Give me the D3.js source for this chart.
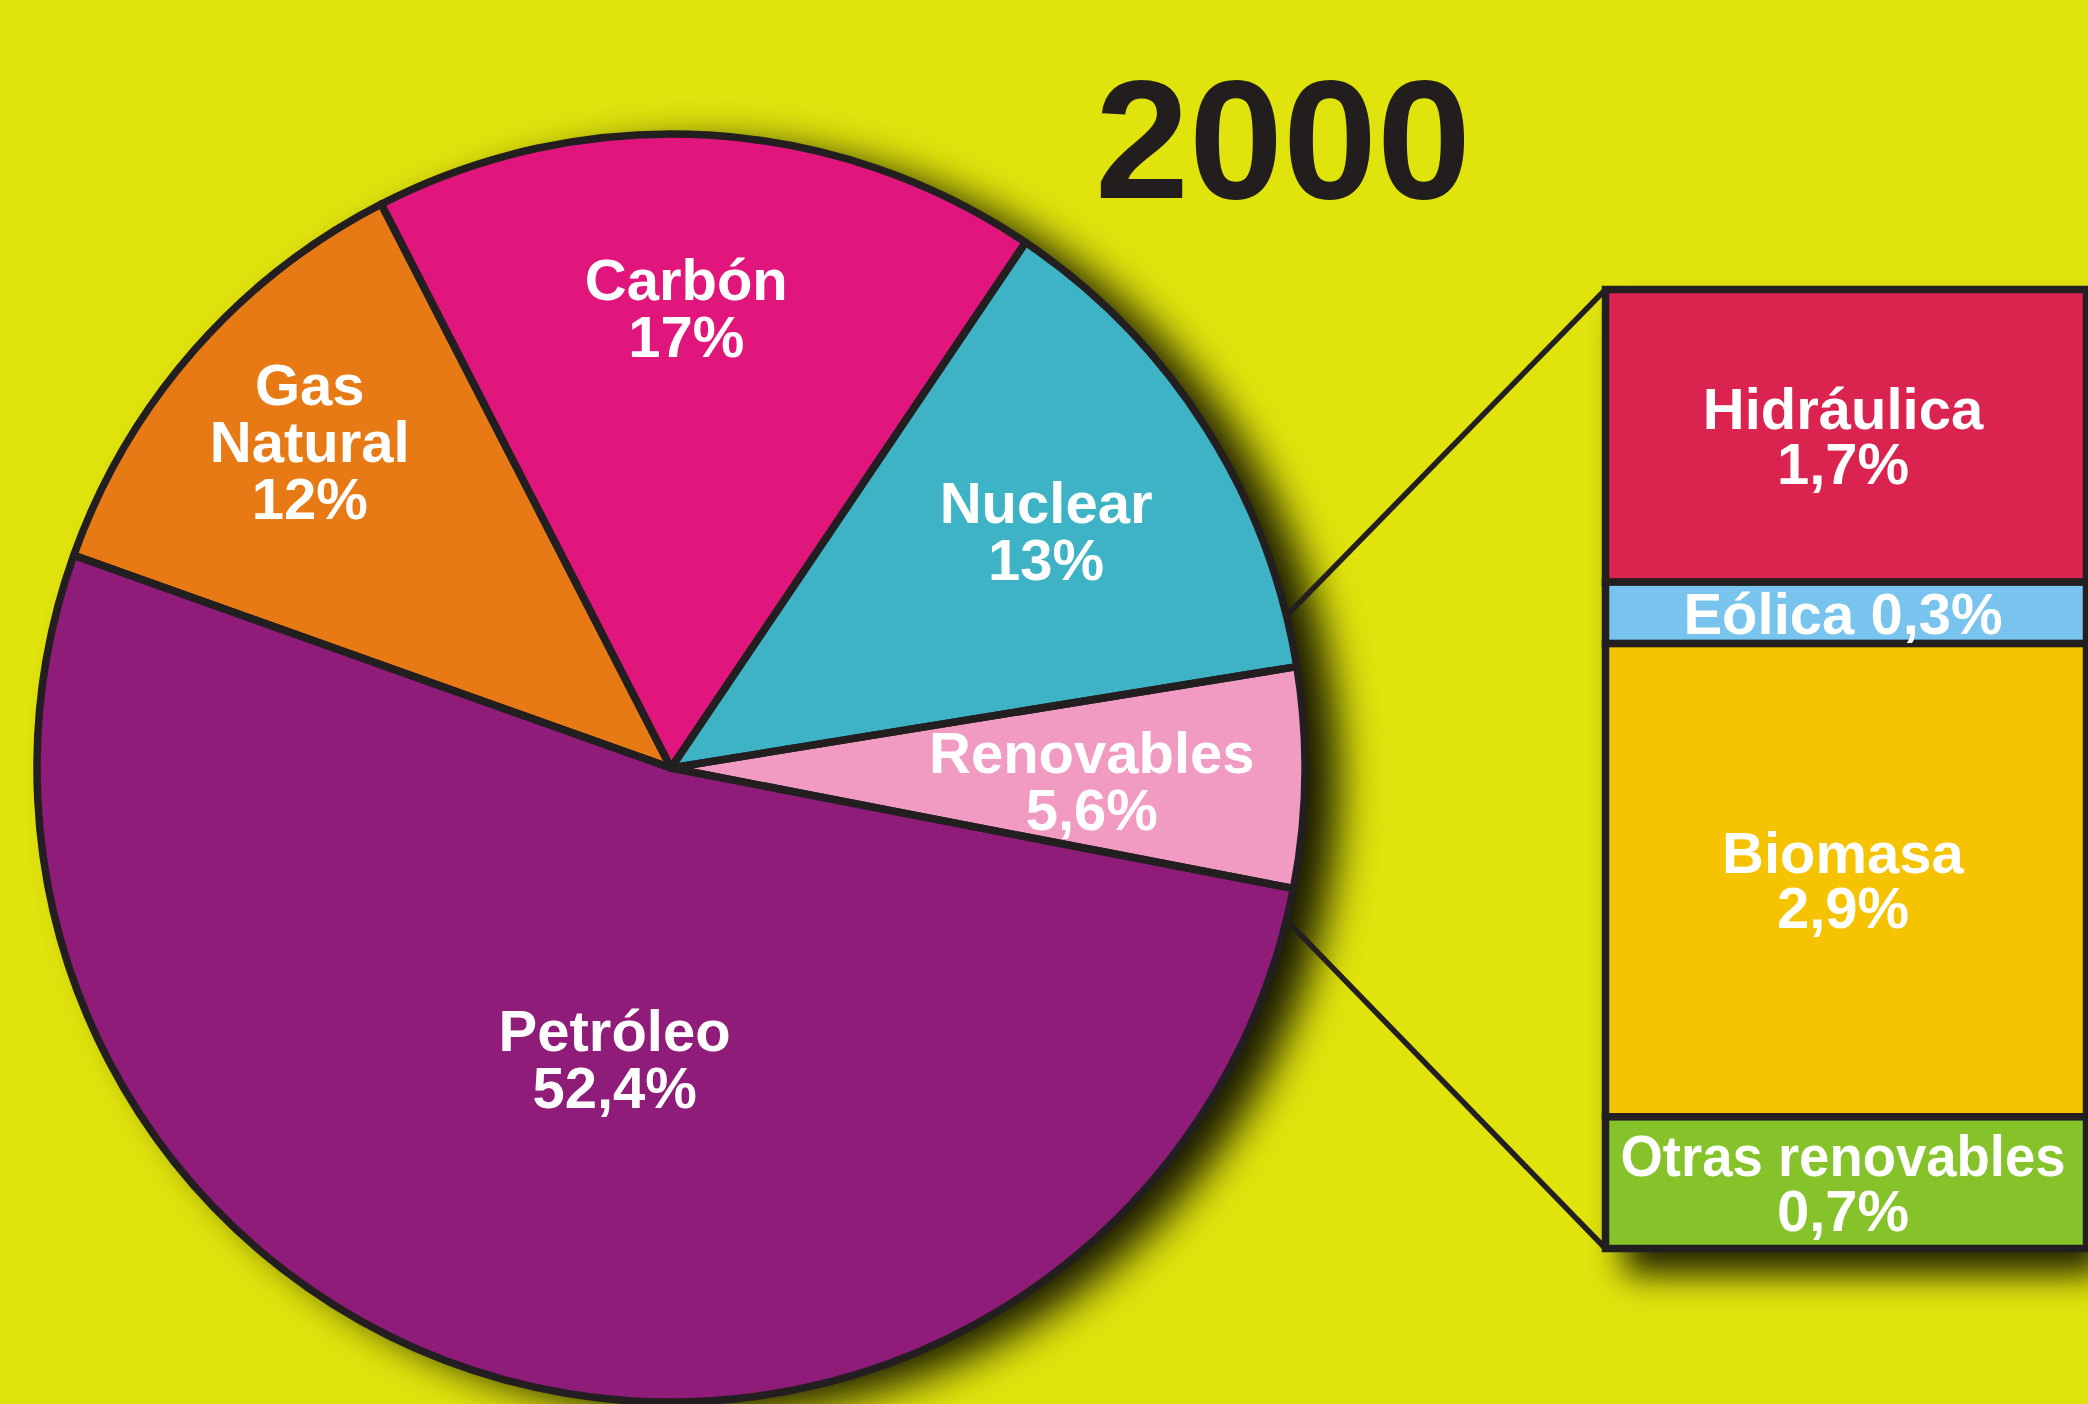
<!DOCTYPE html>
<html>
<head>
<meta charset="utf-8">
<script src="https://cdn.jsdelivr.net/npm/d3@7"></script>
<style>
  body { margin: 0; background: #e1e40c; overflow: hidden; }
  text { font-family: "Liberation Sans", Arial, Helvetica, sans-serif; font-weight: bold; }
</style>
</head>
<body>
<div class="chart"></div>
<script>
// data (year 2000 energy mix, %)
const title = "2000";
const sources = ["Renovables", "Petróleo", "Gas Natural", "Carbón", "Nuclear"];
const shares = [5.6, 52.4, 12, 17, 13];
const sourceColors = ["#f29bc2", "#8f1f78", "#e87a18", "#e0147b", "#3eb3c5"];

const renewables = ["Hidráulica", "Eólica", "Biomasa", "Otras renovables"];
const renewShares = [1.7, 0.3, 2.9, 0.7];
const renewColors = ["#db234f", "#78c4ee", "#f6c300", "#86c22a"];

const W = 2088, H = 1404;
const ink = "#231f20";
const pct = v => String(v).replace(".", ",") + "%";

const svg = d3.select(".chart")
  .append("svg")
  .attr("width", W)
  .attr("height", H)
  .attr("viewBox", `0 0 ${W} ${H}`);

const defs = svg.append("defs");
defs.append("filter")
  .attr("id", "pieShadow")
  .attr("x", "-15%").attr("y", "-15%").attr("width", "140%").attr("height", "140%")
  .append("feDropShadow")
  .attr("dx", 34).attr("dy", 12).attr("stdDeviation", 22)
  .attr("flood-color", "#000").attr("flood-opacity", 0.9);
defs.append("filter")
  .attr("id", "barShadow")
  .attr("x", "-20%").attr("y", "-20%").attr("width", "150%").attr("height", "150%")
  .append("feDropShadow")
  .attr("dx", 18).attr("dy", 26).attr("stdDeviation", 17)
  .attr("flood-color", "#000").attr("flood-opacity", 0.85);

svg.append("rect")
  .attr("width", W).attr("height", H)
  .attr("fill", "#e1e40c");

// ---- pie ----
const cx = 671, cy = 768, R = 634;
const fontSize = 58, lineH = 57, cap = 0.716 * fontSize;

const pieData = sources.map((s, i) => ({ name: s, value: shares[i], color: sourceColors[i] }));
const startA = 80.8 * Math.PI / 180;
const pie = d3.pie().value(d => d.value).sort(null)
  .startAngle(startA).endAngle(startA + 2 * Math.PI);
const arcs = pie(pieData);

const arc = d3.arc().innerRadius(0).outerRadius(R);

// where each label sits, as a share of the radius
const labelR = { "Carbón": 0.726, "Gas Natural": 0.768, "Nuclear": 0.70, "Renovables": 0.664, "Petróleo": 0.467 };
const labelShift = { "Carbón": -1.5, "Gas Natural": 0.9, "Nuclear": 0.3, "Renovables": 0.8, "Petróleo": -4.3 };

const pieG = svg.append("g")
  .attr("transform", `translate(${cx},${cy})`);

pieG.append("g")
  .attr("filter", "url(#pieShadow)")
  .selectAll("path")
  .data(arcs)
  .join("path")
  .attr("d", arc)
  .attr("fill", d => d.data.color);

pieG.selectAll("path.edge")
  .data(arcs)
  .join("path")
  .attr("class", "edge")
  .attr("d", arc)
  .attr("fill", "none")
  .attr("stroke", ink)
  .attr("stroke-width", 7.5)
  .attr("stroke-linejoin", "round");

pieG.selectAll("text.lbl")
  .data(arcs)
  .join("text")
  .attr("class", "lbl")
  .attr("text-anchor", "middle")
  .attr("fill", "#fff")
  .style("font-size", fontSize + "px")
  .each(function (d) {
    const lines = d.data.name.split(" ").concat([pct(d.data.value)]);
    const mid = (d.startAngle + d.endAngle) / 2 + labelShift[d.data.name] * Math.PI / 180;
    const r = R * labelR[d.data.name];
    const x = r * Math.sin(mid), y = -r * Math.cos(mid);
    const b1 = y - ((lines.length - 1) * lineH - cap) / 2;
    d3.select(this).selectAll("tspan")
      .data(lines)
      .join("tspan")
      .attr("x", x)
      .attr("y", (t, i) => b1 + i * lineH)
      .text(t => t);
  });

// ---- stacked bar of renewables ----
const barX0 = 1605.5, barX1 = 2086.5, barY0 = 289.5, barY1 = 1248.5;
const hScale = d3.scalePow().exponent(0.9).domain([0, 1]).range([0, 1]);
const k = (barY1 - barY0) / d3.sum(renewShares, v => hScale(v));
let acc = barY0;
const segs = renewables.map((name, i) => {
  const h = k * hScale(renewShares[i]);
  const s = { name, value: renewShares[i], color: renewColors[i], y0: acc, y1: acc + h };
  acc += h;
  return s;
});

// connector lines from the pie to the bar
const tipA = 14 * Math.PI / 180;
const connectors = [
  { a: Math.PI / 2 - tipA, x2: barX0, y2: barY0 },
  { a: Math.PI / 2 + tipA, x2: barX0, y2: barY1 }
];
svg.selectAll("line.conn")
  .data(connectors)
  .join("line")
  .attr("class", "conn")
  .attr("x1", d => cx + (R + 2) * Math.sin(d.a))
  .attr("y1", d => cy - (R + 2) * Math.cos(d.a))
  .attr("x2", d => d.x2)
  .attr("y2", d => d.y2)
  .attr("stroke", ink)
  .attr("stroke-width", 5.5);

const barG = svg.append("g");
barG.append("rect")
  .attr("x", barX0).attr("y", barY0)
  .attr("width", barX1 - barX0).attr("height", barY1 - barY0)
  .attr("fill", ink)
  .attr("filter", "url(#barShadow)");

barG.selectAll("rect.seg")
  .data(segs)
  .join("rect")
  .attr("class", "seg")
  .attr("x", barX0).attr("y", d => d.y0)
  .attr("width", barX1 - barX0).attr("height", d => d.y1 - d.y0)
  .attr("fill", d => d.color)
  .attr("stroke", ink)
  .attr("stroke-width", 7.5);

const barMid = (barX0 + barX1) / 2 - 3;
barG.selectAll("text.seglbl")
  .data(segs)
  .join("text")
  .attr("class", "seglbl")
  .attr("text-anchor", "middle")
  .attr("fill", "#fff")
  .style("font-size", fontSize + "px")
  .each(function (d) {
    const h = d.y1 - d.y0;
    const lines = h < 100 ? [d.name + " " + pct(d.value)] : [d.name, pct(d.value)];
    const mid = (d.y0 + d.y1) / 2;
    const b1 = mid - ((lines.length - 1) * 55 - cap) / 2;
    d3.select(this).selectAll("tspan")
      .data(lines)
      .join("tspan")
      .attr("x", barMid)
      .attr("y", (t, i) => b1 + i * 55)
      .text(t => t);
  });

// squeeze labels that would overflow the bar
barG.selectAll("text.seglbl tspan").each(function () {
  const len = this.getComputedTextLength();
  if (len > barX1 - barX0 - 30) {
    d3.select(this).attr("textLength", barX1 - barX0 - 36).attr("lengthAdjust", "spacingAndGlyphs");
  }
});

// ---- title ----
svg.append("text")
  .attr("x", 1283)
  .attr("y", 198)
  .attr("text-anchor", "middle")
  .attr("fill", "#221e1d")
  .style("font-size", "169px")
  .text(title);
</script>
</body>
</html>
